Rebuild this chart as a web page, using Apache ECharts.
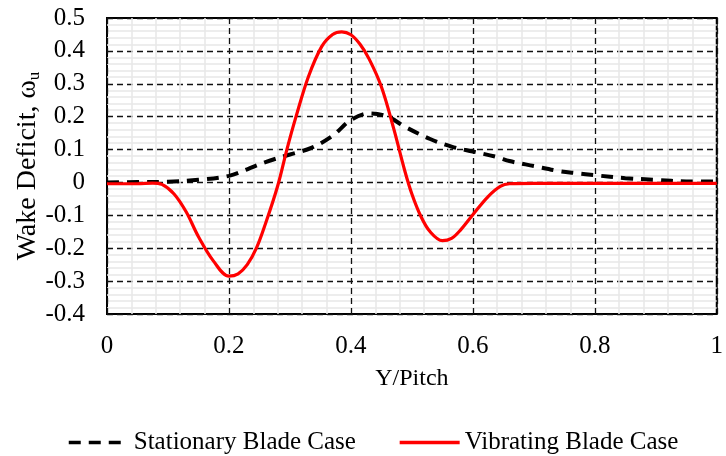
<!DOCTYPE html>
<html>
<head>
<meta charset="utf-8">
<script src="https://cdn.jsdelivr.net/npm/echarts@6/dist/echarts.min.js"></script>
<style>
  html, body { margin: 0; padding: 0; background: #fff; }
  #chart { width: 726px; height: 456px; }
</style>
</head>
<body>
<div id="chart"></div>
<script>
// Wake deficit profiles across one blade pitch
const stationaryPitch = [0, 0.05, 0.1, 0.15, 0.2, 0.23, 0.26, 0.3, 0.335, 0.37, 0.4, 0.43, 0.46, 0.49, 0.53, 0.565, 0.6, 0.64, 0.66, 0.7, 0.74, 0.77, 0.8, 0.85, 0.9, 0.95, 1.0];
const stationaryDeficit = [0.0, 0.001, 0.002, 0.008, 0.02, 0.04, 0.062, 0.085, 0.105, 0.142, 0.19, 0.21, 0.2, 0.168, 0.132, 0.109, 0.094, 0.077, 0.065, 0.05, 0.035, 0.028, 0.022, 0.013, 0.008, 0.003, 0.003];

const vibratingPitch = [0, 0.05, 0.075, 0.09, 0.11, 0.13, 0.15, 0.175, 0.2, 0.215, 0.23, 0.245, 0.26, 0.28, 0.295, 0.31, 0.33, 0.352, 0.37, 0.385, 0.4, 0.415, 0.43, 0.45, 0.47, 0.488, 0.5, 0.515, 0.53, 0.55, 0.565, 0.58, 0.6, 0.625, 0.645, 0.66, 0.7, 1.0];
const vibratingDeficit = [-0.004, -0.004, -0.002, -0.006, -0.035, -0.09, -0.165, -0.24, -0.285, -0.278, -0.25, -0.2, -0.125, -0.01, 0.1, 0.2, 0.32, 0.413, 0.45, 0.458, 0.449, 0.42, 0.375, 0.291, 0.165, 0.038, -0.035, -0.104, -0.15, -0.177, -0.17, -0.144, -0.098, -0.043, -0.012, -0.004, -0.003, -0.003];

const seriesNames = ['Stationary Blade Case', 'Vibrating Blade Case'];
const xTitle = 'Y/Pitch';

const zip = (xs, ys) => xs.map((x, i) => [x, ys[i]]);
const FONT = '"Liberation Serif", "Times New Roman", serif';

const chart = echarts.init(document.getElementById('chart'), null, { renderer: 'canvas' });

const majorLine = { show: true, lineStyle: { color: '#111', width: 1.3, type: [6, 4] } };
const minorLine = { show: true, lineStyle: { color: '#e8e8e8', width: 1.5 } };

chart.setOption({
  animation: false,
  backgroundColor: '#fff',
  textStyle: { fontFamily: FONT, color: '#000' },
  grid: {
    left: 107, right: 5, top: 18, bottom: 142,
    show: true, borderColor: '#000', borderWidth: 2, backgroundColor: 'transparent'
  },
  legend: {
    left: 62, top: 425,
    itemWidth: 60, itemHeight: 14, itemGap: 42,
    itemStyle: { opacity: 0 },
    lineStyle: { width: 3.5 },
    textStyle: { fontFamily: FONT, fontSize: 25, color: '#000' },
    data: seriesNames
  },
  xAxis: {
    type: 'value', min: 0, max: 1, interval: 0.2,
    name: xTitle, nameLocation: 'middle', nameGap: 53, nameMoveOverlap: false,
    nameTextStyle: { fontFamily: FONT, fontSize: 24, color: '#000' },
    axisLine: { show: false, onZero: false },
    axisTick: { show: false },
    axisLabel: { margin: 20, fontFamily: FONT, fontSize: 25, color: '#000',
      formatter: v => String(Math.round(v * 10) / 10) },
    splitLine: majorLine,
    minorTick: { show: false, splitNumber: 5 },
    minorSplitLine: minorLine
  },
  yAxis: {
    type: 'value', min: -0.4, max: 0.5, interval: 0.1,
    name: '{t|Wake Deficit, ω}{s|u}', nameLocation: 'middle', nameGap: 64, nameMoveOverlap: false,
    nameTextStyle: {
      fontFamily: FONT, fontSize: 28, color: '#000',
      rich: {
        t: { fontFamily: FONT, fontSize: 28, color: '#000' },
        s: { fontFamily: FONT, fontSize: 17, color: '#000', padding: [14, 0, 0, 0] }
      }
    },
    axisLine: { show: false, onZero: false },
    axisTick: { show: false },
    axisLabel: { margin: 22, fontFamily: FONT, fontSize: 25, color: '#000',
      formatter: v => { const r = Math.round(v * 10) / 10; return r === 0 ? '0' : r.toFixed(1); } },
    splitLine: majorLine,
    minorTick: { show: false, splitNumber: 5 },
    minorSplitLine: minorLine
  },
  series: [
    {
      name: seriesNames[0], type: 'line', data: zip(stationaryPitch, stationaryDeficit),
      smooth: 0.35, showSymbol: false, symbol: 'none',
      lineStyle: { color: '#000', width: 4, type: [12, 8] },
      itemStyle: { color: '#000' }, z: 3
    },
    {
      name: seriesNames[1], type: 'line', data: zip(vibratingPitch, vibratingDeficit),
      smooth: 0.35, showSymbol: false, symbol: 'none',
      lineStyle: { color: '#ff0000', width: 3.2 },
      itemStyle: { color: '#ff0000' }, z: 4
    }
  ]
});
</script>
</body>
</html>
